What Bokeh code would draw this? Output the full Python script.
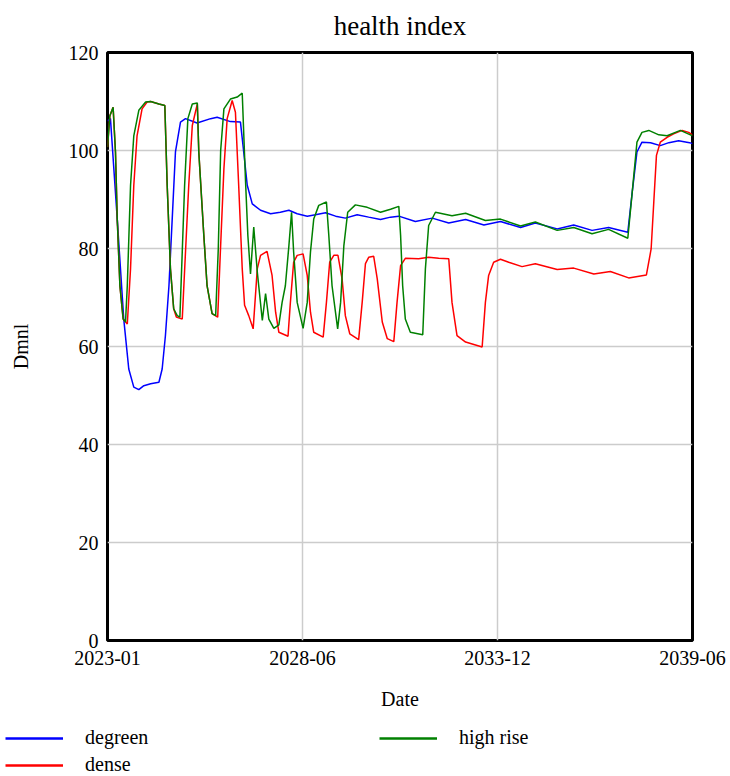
from bokeh.plotting import figure
from bokeh.models import Legend, LegendItem, FixedTicker, Range1d
from bokeh.layouts import column
from bokeh.embed import file_html
from bokeh.resources import INLINE

# x values are months since 2023-01
tick_months = [0, 66, 132, 198]
tick_labels = ["2023-01", "2028-06", "2033-12", "2039-06"]
y_ticks = [0, 20, 40, 60, 80, 100, 120]

series_names = ["degreen", "dense", "high rise"]
series_colors = ["#0000ff", "#ff0000", "#008000"]

degreen_t = [0, 1, 3.3, 5.5, 7.2, 8.9, 10.6, 12.3, 14.6, 17.4, 18.5, 19.6, 20.8, 21.9, 23, 24.7, 26.4,
             30.3, 34.9, 37.1, 41.6, 45, 46.1, 47.3, 49, 51.8, 55.2, 58.5, 61.4, 64.2, 67.6, 70.4, 73.8,
             77.2, 80.5, 84.5, 88.4, 92.4, 95.8, 98.6, 104.2, 109.9, 115.5, 121.2, 127.4, 133, 139.8,
             144.8, 152.2, 157.8, 164, 169.6, 176.1, 177.6, 179.2, 180.9, 183.8, 187.1, 190, 193.3, 197, 198]
degreen_v = [106, 106.5, 86, 65.6, 55.4, 51.7, 51.2, 52, 52.4, 52.7, 55.4, 62.2, 72.4, 86, 99.7, 105.8, 106.5,
             105.6, 106.5, 106.8, 105.9, 105.8, 99.7, 92.9, 89.1, 87.8, 87.1, 87.4, 87.8, 87.1, 86.6, 86.9, 87.3,
             86.6, 86.2, 86.9, 86.4, 85.9, 86.4, 86.6, 85.5, 86.2, 85.2, 85.9, 84.8, 85.5, 84.3,
             85.2, 84, 84.8, 83.7, 84.3, 83.3, 91.5, 99.7, 101.7, 101.6, 101, 101.6, 102, 101.6, 101.4]

dense_t = [0, 0.8, 1.9, 2.7, 3.3, 4.2, 5.3, 6.7, 7.8, 8.9, 10, 11.7, 13.4, 14.6, 17.4, 19.4, 20.2, 21.3,
           22.4, 23.3, 25.3, 26.4, 27.5, 28.7, 30.4, 30.9, 32.6, 33.7, 35.4, 37.3, 38.2, 39.4, 40.5, 42.2,
           43.3, 44.4, 45.6, 46.4, 47.8, 49.3, 50.7, 51.8, 54, 55.7, 56.9, 58, 61.1, 61.9, 63, 64.2, 66.2,
           67.6, 68.7, 69.8, 73, 74.1, 75.2, 76.6, 78, 79.4, 80.5, 82, 85, 86.2, 87.3, 88.4, 90.1, 91.3, 93,
           94.7, 96.9, 98, 99.2, 100.8, 105.3, 108.7, 112.1, 115.5, 116.6, 118.3, 121.2, 126.8, 127.9, 129,
           130.7, 133, 135.8, 140.3, 144.8, 152.2, 157.8, 164.6, 170.2, 176.4, 182.4, 184, 184.9, 185.8,
           187.1, 189.4, 191.6, 194.5, 196.7, 198]
dense_v = [100.7, 107.1, 108.8, 99.7, 86, 72.4, 65.6, 64.6, 75.9, 92.9, 103, 108.5, 109.9, 110, 109.5, 109.2, 92.9, 75.9,
           67.7, 66, 65.6, 79.3, 92.9, 105.1, 109.5, 99.7, 82.7, 72.4, 66.7, 66, 79.3, 96.3, 106.5, 110.2,
           107.8, 92.9, 75.9, 68.4, 66.3, 63.6, 75.9, 78.6, 79.4, 74.5, 67, 62.9, 62.1, 69, 77.2, 78.6, 78.9,
           74.5, 67, 62.9, 61.9, 69, 77.2, 78.6, 78.6, 73.8, 66.3, 62.6, 61.4, 69, 76.9, 78.2, 78.4, 73.8, 65,
           61.6, 61, 69, 76.5, 78, 77.9, 78.2, 78, 77.9, 69, 62.2, 60.9, 59.9, 69, 74.5,
           77.2, 77.8, 77.2, 76.3, 76.9, 75.7, 76, 74.8, 75.3, 74, 74.6, 79.9, 89.5, 99,
           101.7, 102.7, 103.4, 104.1, 103.7, 103.2]

highrise_t = [0, 0.8, 1.9, 2.7, 3.3, 4.2, 5.3, 6.1, 6.7, 7.8, 8.9, 10.6, 12.9, 14.6, 17.4, 19.4, 20.2, 21.3,
              22.4, 23.6, 24.5, 25.3, 26.1, 27.2, 28.7, 30.4, 30.9, 32.6, 33.7, 35.4, 36.6, 37.5, 38.3, 39.4,
              41.6, 43.9, 45.6, 46.7, 47.5, 48.4, 49.5, 50.7, 52.4, 53.5, 54.6, 56.3, 58, 59.1, 60.2, 61.4,
              62.3, 63, 64.2, 66.2, 67.6, 68.7, 69.8, 71.5, 74.1, 74.9, 76, 77.9, 78.9, 80, 81.3, 83.9, 87.9,
              92.4, 95.8, 98.6, 99.2, 99.9, 100.8, 102.5, 106.7, 107.6, 108.7, 111, 116.6, 121.2, 127.9, 133,
              139.8, 144.8, 152.2, 157.8, 164, 169.6, 176.1, 177.6, 179.2, 180.9, 183.2, 186.6, 189.4, 193.9,
              197.3, 198]
highrise_v = [100.7, 107.1, 108.8, 99.7, 86, 72.4, 65.6, 65, 72.4, 92.9, 103, 108.2, 109.9, 110, 109.5, 109.2, 92.9, 75.9,
              67.7, 66.3, 66, 79.3, 92.9, 106.5, 109.5, 109.7, 99.7, 82.7, 72.4, 66.7, 66.3, 80, 100, 108.5,
              110.5, 110.9, 111.7, 94, 82.7, 74.8, 84.4, 75.2, 65.3, 70.8, 65.6, 63.7, 64.4, 69, 72.4, 80.6,
              87.4, 79.3, 69, 63.7, 69, 79.3, 86, 88.8, 89.5, 82.7, 72.4, 63.6, 69, 80.6, 87.4, 88.9, 88.4,
              87.4, 88, 88.6, 82.7, 72.4, 65.6, 62.9, 62.4, 75.9, 84.7, 87.4, 86.7, 87.2, 85.7, 86,
              84.6, 85.4, 83.7, 84.3, 83, 83.9, 82.1, 91.5, 101.7, 103.7, 104.1, 103.2, 103, 104.1,
              103.2, 103]

FONT = "Liberation Serif"

p = figure(width=730, height=720, output_backend="svg", toolbar_location=None,
           x_range=Range1d(0, 198), y_range=Range1d(0, 120),
           min_border_left=107, min_border_right=38, min_border_top=52, min_border_bottom=80)
p.frame_align = False

p.title.text = "health index"
p.title.align = "center"
p.title.vertical_align = "top"
p.title.text_font = FONT
p.title.text_font_size = "27px"
p.title.text_font_style = "normal"
p.title.text_color = "black"
p.title.standoff = 19

p.outline_line_color = "black"
p.outline_line_width = 3
p.background_fill_color = "white"
p.border_fill_color = "white"

p.xaxis.ticker = FixedTicker(ticks=tick_months)
p.xaxis.major_label_overrides = {m: l for m, l in zip(tick_months, tick_labels)}
p.yaxis.ticker = FixedTicker(ticks=y_ticks)
p.xaxis.axis_label = "Date"
p.yaxis.axis_label = "Dmnl"

for ax in (p.xaxis, p.yaxis):
    ax.axis_line_color = None
    ax.major_tick_line_color = None
    ax.minor_tick_line_color = None
    ax.major_tick_in = 0
    ax.major_tick_out = 0
    ax.major_label_text_font = FONT
    ax.major_label_text_font_size = "20px"
    ax.major_label_text_color = "black"
    ax.axis_label_text_font = FONT
    ax.axis_label_text_font_size = "20px"
    ax.axis_label_text_font_style = "normal"
    ax.axis_label_text_color = "black"

p.xaxis.major_label_standoff = 10
p.xaxis.axis_label_standoff = 20
p.yaxis.major_label_standoff = 9
p.yaxis.axis_label_standoff = 34

p.xgrid.grid_line_color = "#cccccc"
p.ygrid.grid_line_color = "#cccccc"
p.xgrid.grid_line_width = 1.5
p.ygrid.grid_line_width = 1.5

data = [(degreen_t, degreen_v), (dense_t, dense_v), (highrise_t, highrise_v)]
for (t, v), c in zip(data, series_colors):
    p.line(t, v, line_color=c, line_width=1.5)

# legend strip below the chart (its key lines sit outside its visible range)
lg = figure(width=730, height=56, output_backend="svg", toolbar_location=None,
            x_range=Range1d(0, 1), y_range=Range1d(0, 1),
            min_border_left=0, min_border_right=0, min_border_top=0, min_border_bottom=0)
lg.frame_align = False
lg.axis.visible = False
lg.grid.visible = False
lg.outline_line_color = None
lg.background_fill_color = "white"
lg.border_fill_color = "white"

items = []
for name, c in zip(series_names, series_colors):
    r = lg.line([5, 6], [5, 6], line_color=c, line_width=2.5)
    items.append(LegendItem(label=name, renderers=[r]))

legend = Legend(items=items, location=(5, 0), nrows=2, orientation="vertical",
                glyph_width=58, glyph_height=22, label_height=22, label_standoff=22, label_width=290,
                spacing=4, padding=0, margin=0,
                label_text_font=FONT, label_text_font_size="20px", label_text_color="black",
                background_fill_alpha=0, border_line_alpha=0)
lg.add_layout(legend, "center")

open("out.html", "w").write(file_html(column(p, lg, spacing=0), INLINE))
